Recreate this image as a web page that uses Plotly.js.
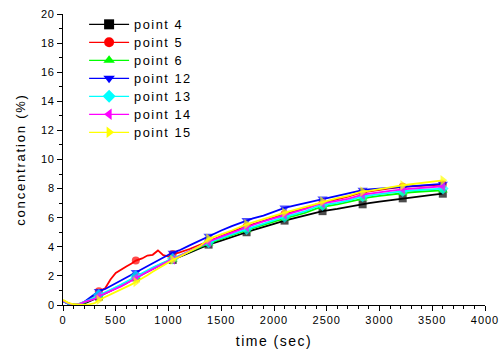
<!DOCTYPE html>
<html>
<head>
<meta charset="utf-8">
<script src="https://cdn.plot.ly/plotly-3.0.1.min.js"></script>
<style>html,body{margin:0;padding:0;background:#fff;}#chart{width:504px;height:356px;}</style>
</head>
<body>
<div id="chart"></div>
<script>
// time (sec)
var time = [0,50,100,150,200,250,300,340,400,450,500,550,600,650,690,750,800,850,900,950,1000,1040,1100,1200,1300,1380,1500,1600,1740,1800,1900,2000,2100,2200,2300,2400,2460,2600,2700,2840,2900,3000,3100,3220,3300,3400,3500,3600];
// times carrying a symbol
var markerTimes = [340,690,1040,1380,1740,2100,2460,2840,3220,3600];

var point4  = [0.3,0.12,0.03,0.02,0.1,0.25,0.42,0.58,0.78,0.95,1.12,1.3,1.5,1.72,1.9,2.1,2.3,2.48,2.66,2.84,3.0,3.1,3.3,3.6,3.9,4.15,4.42,4.68,5.0,5.14,5.38,5.58,5.8,5.97,6.14,6.32,6.45,6.6,6.74,6.92,7.0,7.1,7.2,7.33,7.4,7.5,7.57,7.65];
var point5  = [0.28,0.1,0.05,0.06,0.2,0.4,0.7,0.95,1.15,1.75,2.2,2.45,2.65,2.85,3.05,3.2,3.4,3.45,3.75,3.42,3.33,3.5,3.6,3.85,4.15,4.4,4.75,5.02,5.4,5.55,5.8,6.02,6.25,6.45,6.65,6.92,7.02,7.25,7.45,7.75,7.82,7.92,8.02,8.12,8.16,8.2,8.24,8.28];
var point6  = [0.3,0.1,0.02,0.05,0.15,0.3,0.46,0.62,0.82,1.0,1.16,1.35,1.55,1.76,1.94,2.14,2.34,2.53,2.71,2.88,3.04,3.14,3.34,3.66,3.98,4.24,4.55,4.82,5.15,5.28,5.52,5.74,5.96,6.15,6.35,6.62,6.75,6.92,7.08,7.33,7.4,7.5,7.6,7.7,7.75,7.8,7.84,7.88];
var point12 = [0.25,0.08,-0.02,0.0,0.2,0.45,0.75,0.95,1.1,1.3,1.45,1.65,1.85,2.05,2.25,2.45,2.65,2.85,3.05,3.25,3.45,3.58,3.75,4.1,4.45,4.75,5.12,5.42,5.82,5.95,6.15,6.42,6.68,6.85,7.02,7.2,7.3,7.5,7.68,7.9,7.95,8.0,8.05,8.1,8.15,8.2,8.26,8.32];
var point13 = [0.28,0.1,0.02,0.08,0.22,0.35,0.55,0.7,0.88,1.05,1.2,1.4,1.6,1.8,1.98,2.18,2.38,2.57,2.75,2.92,3.08,3.18,3.38,3.7,4.02,4.3,4.6,4.88,5.22,5.35,5.6,5.82,6.05,6.25,6.45,6.75,6.87,7.02,7.18,7.46,7.52,7.62,7.72,7.82,7.87,7.93,7.97,8.0];
var point14 = [0.3,0.12,0.03,0.05,0.2,0.3,0.42,0.6,0.78,0.95,1.1,1.28,1.48,1.7,1.85,2.08,2.28,2.47,2.66,2.85,3.02,3.12,3.35,3.7,4.05,4.35,4.7,4.98,5.35,5.5,5.75,5.97,6.2,6.4,6.6,6.88,6.98,7.15,7.3,7.58,7.65,7.75,7.85,7.95,8.0,8.07,8.12,8.16];
var point15 = [0.35,0.15,0.05,0.0,0.0,0.05,0.12,0.35,0.55,0.72,0.9,1.08,1.25,1.42,1.58,1.82,2.05,2.28,2.5,2.7,2.88,3.1,3.3,3.7,4.05,4.55,4.85,5.12,5.55,5.67,5.9,6.12,6.35,6.55,6.75,6.98,7.12,7.35,7.5,7.8,7.85,7.95,8.08,8.23,8.3,8.4,8.48,8.57];

var seriesNames = ['point 4','point 5','point 6','point 12','point 13','point 14','point 15'];
var seriesData = [point4, point5, point6, point12, point13, point14, point15];
var colors = ['#000000','#ff0000','#00ff00','#0000ff','#00ffff','#ff00ff','#ffff00'];
var symbols = ['square','circle','triangle-up','triangle-down','diamond','triangle-left','triangle-right'];
var sizes = [8,8,9,9,9,9,9];

var traces = [];
seriesData.forEach(function(vals, i){
  var msize = time.map(function(t){ return markerTimes.indexOf(t) >= 0 ? sizes[i] : 0; });
  traces.push({
    x: time, y: vals, type: 'scatter', mode: 'lines+markers',
    name: seriesNames[i], showlegend: false, legendgroup: 'g' + i,
    line: {color: colors[i], width: 1.8},
    marker: {color: colors[i], symbol: symbols[i], size: msize, line: {width: 0}},
    hoverinfo: 'none'
  });
});
seriesData.forEach(function(vals, i){
  traces.push({
    x: [null], y: [null], type: 'scatter', mode: 'lines+markers',
    name: seriesNames[i], showlegend: true, legendgroup: 'g' + i,
    line: {color: colors[i], width: 1.2},
    marker: {color: colors[i], symbol: symbols[i], size: 10, line: {width: 0}}
  });
});

var font = 'Arial, "Liberation Sans", sans-serif';
var layout = {
  width: 504, height: 356,
  margin: {l: 63, r: 19, t: 11, b: 51},
  paper_bgcolor: '#fff', plot_bgcolor: '#fff',
  font: {family: font, color: '#000', size: 11},
  showlegend: true,
  legend: {x: 0.05, y: 1.012, xanchor: 'left', yanchor: 'top', bgcolor: 'rgba(0,0,0,0)',
           font: {family: font, size: 12.8, color: '#000'}, tracegroupgap: 0},
  xaxis: {
    range: [0, 4000], dtick: 500, tick0: 0, showgrid: false, zeroline: false,
    showline: true, linecolor: '#000', linewidth: 1,
    ticks: 'outside', ticklen: 5, tickcolor: '#000', tickwidth: 1,
    minor: {dtick: 100, ticks: 'outside', ticklen: 3, tickcolor: '#000', showgrid: false},
    tickfont: {family: font, size: 11, color: '#000'},
    title: {text: 'time (sec)', font: {family: font, size: 14, color: '#000'}, standoff: 10}
  },
  yaxis: {
    range: [0, 20], dtick: 2, tick0: 0, showgrid: false, zeroline: false,
    showline: true, linecolor: '#000', linewidth: 1,
    ticks: 'outside', ticklen: 5, tickcolor: '#000', tickwidth: 1,
    minor: {dtick: 1, ticks: 'outside', ticklen: 3, tickcolor: '#000', showgrid: false},
    tickfont: {family: font, size: 11, color: '#000'},
    title: {text: 'concentration (%)', font: {family: font, size: 13, color: '#000'}, standoff: 13}
  }
};
Plotly.newPlot('chart', traces, layout, {staticPlot: true, displayModeBar: false}).then(function(gd){
  function sp(sel, v){ gd.querySelectorAll(sel).forEach(function(e){ e.style.letterSpacing = v; }); }
  sp('.legendtext', '1.5px');
  sp('.g-xtitle text', '1.5px');
  sp('.g-ytitle text', '1.8px');
  sp('.xtick text', '1px');
  sp('.ytick text', '0.8px');
  gd.querySelectorAll('.legend, .legend .scrollbox').forEach(function(e){ e.removeAttribute('clip-path'); });
  // longer legend line sample and tighter row pitch, as in the original
  gd.querySelectorAll('.legend .legendlines path').forEach(function(p){ p.setAttribute('d', 'M5,0h40'); });
  gd.querySelectorAll('.legend .legendpoints path').forEach(function(p){ p.setAttribute('transform', 'translate(25,0)'); });
  gd.querySelectorAll('.legend .legendtext').forEach(function(t){ t.setAttribute('x', '50'); });
  var rows = gd.querySelectorAll('.legend .traces');
  var y0 = null;
  rows.forEach(function(r, i){
    var m = /translate\(\s*([-\d.]+)[ ,]+([-\d.]+)\s*\)/.exec(r.getAttribute('transform') || '');
    if (!m) return;
    if (y0 === null) y0 = parseFloat(m[2]) - 1;
    r.setAttribute('transform', 'translate(' + m[1] + ',' + (y0 + i * 18) + ')');
  });
});
</script>
</body>
</html>
